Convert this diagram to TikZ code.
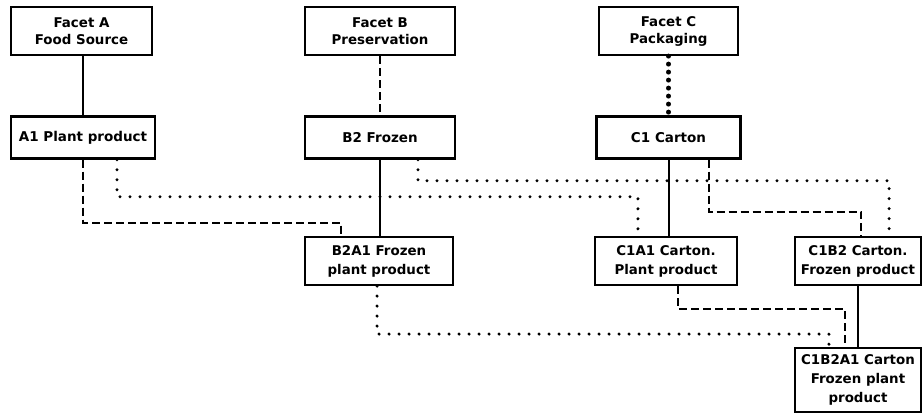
\documentclass[tikz,border=0pt]{standalone}
\usepackage{fontspec}
\setmainfont{DejaVu Sans}
\usetikzlibrary{
  positioning,
  calc
}
\tikzset{
  box/.style={
    rectangle, draw=black, fill=white, line width=2.2pt,
    inner sep=1pt, align=center,
    font=\fontsize{13.4}{17}\selectfont\bfseries
  },
  facet/.style={box, minimum height=48pt},
  concept/.style={box, minimum height=42pt, line width=2.6pt, font=\fontsize{13.5}{17}\selectfont\bfseries},
  compound/.style={box, minimum height=48pt, font=\fontsize{13.4}{19}\selectfont\bfseries},
  solidline/.style={line width=2pt},
  dashline/.style={line width=2pt, dash pattern=on 8pt off 4pt},
  dotline/.style={line width=3.3pt, line cap=round, dash pattern=on 0pt off 10pt},
  heavydot/.style={line width=5pt, line cap=round, dash pattern=on 0pt off 8pt},
}
\begin{document}
\begin{tikzpicture}[x=1pt, y=-1pt]
\useasboundingbox[fill=white] (0,0) rectangle (922,415);

% Facets (top row)
\node[facet, minimum width=141pt] (facetA) at (81.5,31) {Facet A\\Food Source};
\node[facet, minimum width=150pt] (facetB) at (380,31) {Facet B\\Preservation};
\node[facet, minimum width=139pt] (facetC) at (668.5,31) {Facet C\\Packaging};

% Single concepts
\node[concept, minimum width=144pt, below=59pt of facetA, xshift=1.5pt] (plantA) {A1 Plant product};
\node[concept, minimum width=150pt, below=59pt of facetB] (frozenB) {B2 Frozen};
\node[concept, minimum width=144pt, below=59pt of facetC] (cartonC) {C1 Carton};

% Compound concepts
\node[compound, minimum width=148pt] (frozenPlant) at (379,261) {B2A1 Frozen\\plant product};
\node[compound, minimum width=142pt] (cartonPlant) at (666,261) {C1A1 Carton.\\Plant product};
\node[compound, minimum width=126pt] (cartonFrozen) at (858,261) {C1B2 Carton.\\Frozen product};
\node[compound, minimum width=126pt, minimum height=64pt] (cartonFrozenPlant) at (858,380) {C1B2A1 Carton\\Frozen plant\\product};

% Facet to concept
\draw[solidline] (plantA.north |- facetA.south) -- (plantA.north);
\draw[dashline] (facetB) -- (frozenB);
\draw[heavydot] (facetC) -- (cartonC);

% Concept to compound
\draw[solidline] (frozenB.south) -- (frozenB.south |- frozenPlant.north);
\draw[solidline] (cartonC.south) -- (cartonC.south |- cartonPlant.north);
\draw[dashline] (plantA.south) -- ++(0,63) -| ([xshift=-38pt]frozenPlant.north);
\draw[dotline] ([xshift=34pt]plantA.south) -- ++(0,37) -| ([xshift=44pt]cartonPlant.north west);
\draw[dotline] ([xshift=38pt]frozenB.south) -- ++(0,21) -| ([xshift=-33pt]cartonFrozen.north east);
\draw[dashline] ([xshift=40pt]cartonC.south) -- ++(0,52) -| ([xshift=3pt]cartonFrozen.north);

% Compound to compound
\draw[solidline] (cartonFrozen.south) -- (cartonFrozen.south |- cartonFrozenPlant.north);
\draw[dotline] ([xshift=-2pt]frozenPlant.south) -- ++(0,48) -| ([xshift=35pt]cartonFrozenPlant.north west);
\draw[dashline] ([xshift=12pt]cartonPlant.south) -- ++(0,23) -| ([xshift=51pt]cartonFrozenPlant.north west);

\end{tikzpicture}
\end{document}
